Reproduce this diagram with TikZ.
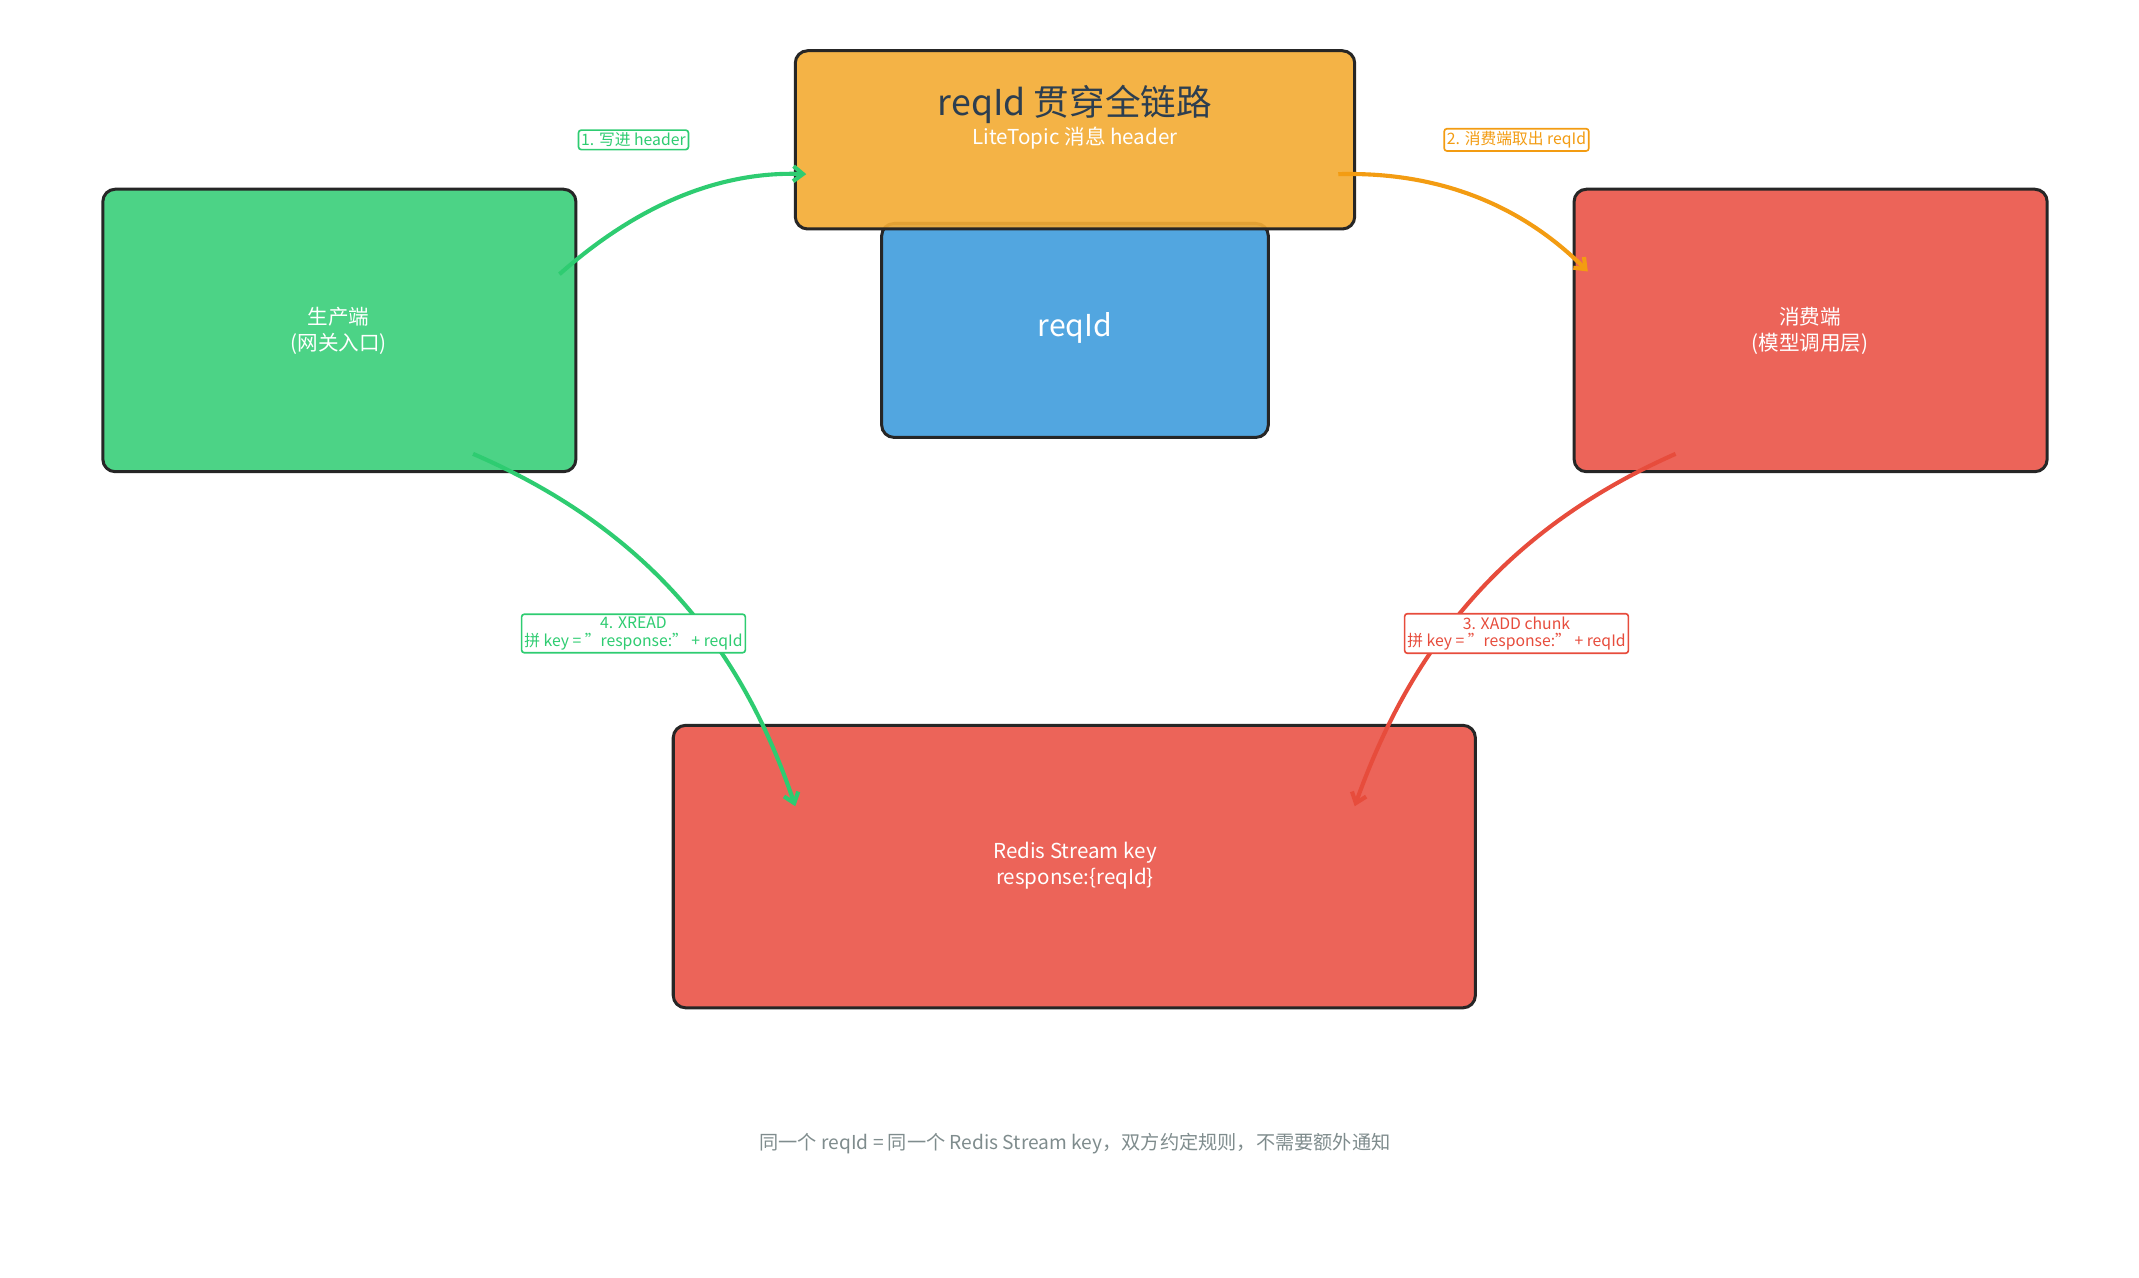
\documentclass[tikz,border=0pt]{standalone}
\usepackage{fontspec}
\setmainfont{Noto Sans CJK SC}
\usetikzlibrary{arrows.meta}
\definecolor{cg}{HTML}{4CD386}
\definecolor{co}{HTML}{F3AC36}
\definecolor{cb}{HTML}{52A6E0}
\definecolor{cr}{HTML}{EC6459}
\definecolor{ag}{HTML}{2ECC71}
\definecolor{ao}{HTML}{F39C12}
\definecolor{ar}{HTML}{E74C3C}
\definecolor{dk}{HTML}{2C3E50}
\definecolor{gy}{HTML}{7F8C8D}
\begin{document}
\begin{tikzpicture}[x=1pt,y=-1pt,
 box/.style={draw=black!85,line width=2.2pt,rounded corners=9pt},
 txt/.style={text=white,font=\fontsize{15}{19}\selectfont,align=center},
 lab/.style={fill=white,draw=#1,text=#1,line width=1.2pt,rounded corners=2pt,font=\fontsize{11.5}{13}\selectfont,align=center,inner sep=2pt},
 arr/.style={draw=#1,line width=3pt,-{Straight Barb[length=7pt,width=11pt]}}]
\useasboundingbox (0,0) rectangle (1560,932);
\draw[box,fill=cb] (643,163) rectangle (925,319);
\draw[box,fill=co,fill opacity=0.92] (580,37) rectangle (988,167);
\draw[box,fill=cg] (75,138) rectangle (420,344);
\draw[box,fill=cr] (1148,138) rectangle (1493,344);
\draw[box,fill=cr] (491,529) rectangle (1076,735);
\node (t) at (784,76) {\fontsize{26}{30}\selectfont\color{dk} reqId 贯穿全链路};
\node (ts) at (784,101) {\fontsize{15}{18}\selectfont\color{white} LiteTopic 消息 header};
\node[txt,font=\fontsize{22}{26}\selectfont] (b) at (784,239) {reqId};
\node[txt] (p) at (247,241) {生产端\\(网关入口)};
\node[txt] (c) at (1320,241) {消费端\\(模型调用层)};
\node[txt] (r) at (784,631) {Redis Stream key\\response:\{reqId\}};
\coordinate (a1s) at (408,200); \coordinate (a1e) at (588,127);
\coordinate (a2s) at (976,127); \coordinate (a2e) at (1158,198);
\coordinate (a3s) at (1222,331); \coordinate (a3e) at (988,588);
\coordinate (a4s) at (345,331); \coordinate (a4e) at (580,588);
\draw[arr=ag] (a1s) .. controls (470,145) and (530,125) .. (a1e);
\draw[arr=ao] (a2s) .. controls (1050,125) and (1110,150) .. (a2e);
\draw[arr=ar] (a3s) .. controls (1100,385) and (1030,470) .. (a3e);
\draw[arr=ag] (a4s) .. controls (470,385) and (540,470) .. (a4e);
\node[lab=ag] (l1) at (462,102) {1. 写进 header};
\node[lab=ao] (l2) at (1106,102) {2. 消费端取出 reqId};
\node[lab=ar] (l3) at (1106,462) {3. XADD chunk\\拼 key = "response:" + reqId};
\node[lab=ag] (l4) at (462,462) {4. XREAD\\拼 key = "response:" + reqId};
\node[text=gy,font=\fontsize{14}{16}\selectfont] (f) at (784,834) {同一个 reqId = 同一个 Redis Stream key，双方约定规则，不需要额外通知};
\end{tikzpicture}
\end{document}
